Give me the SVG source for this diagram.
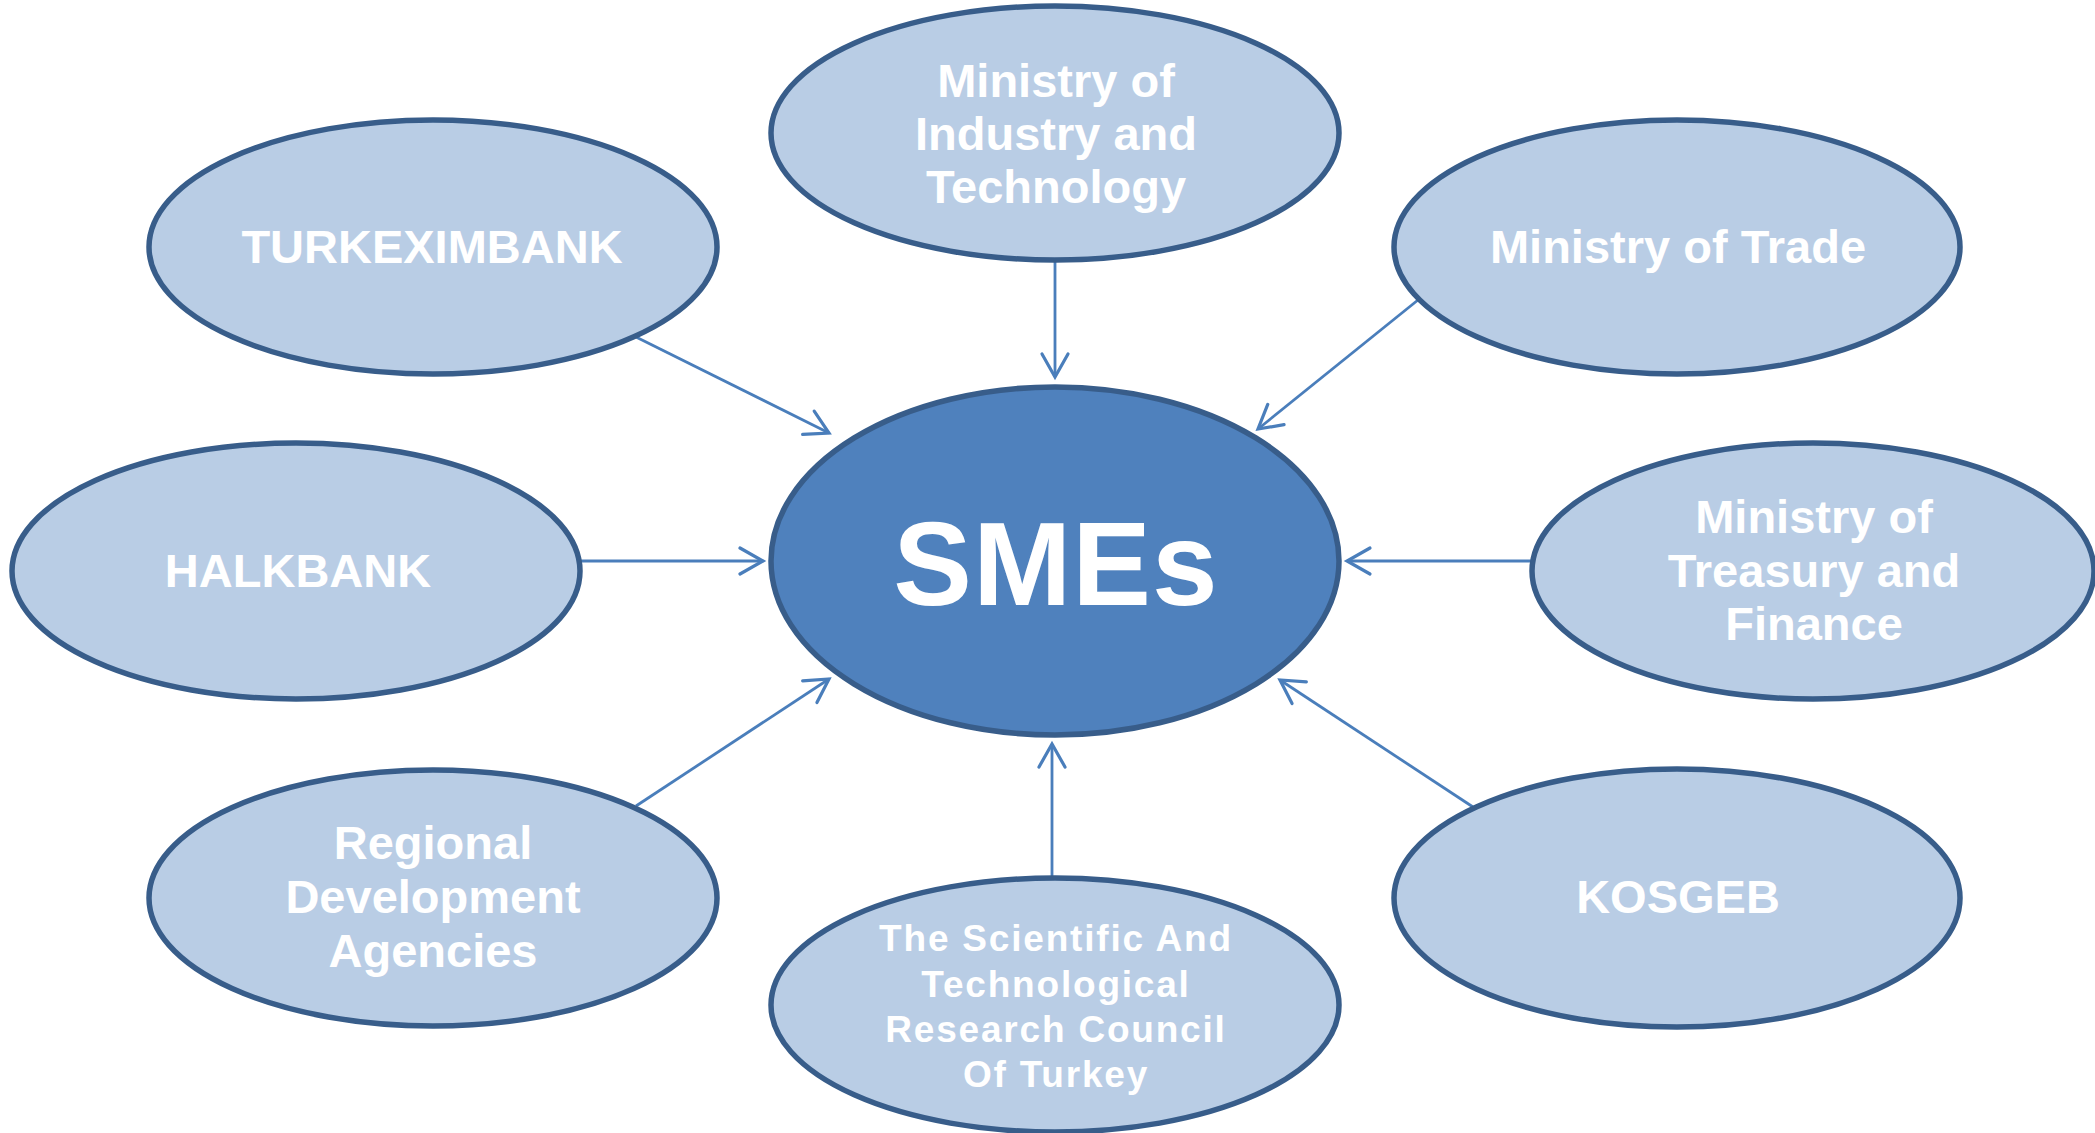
<svg xmlns="http://www.w3.org/2000/svg" width="2095" height="1133" viewBox="0 0 2095 1133">
<style>
.node{fill:#B9CDE5;stroke:#385D8A;stroke-width:5.5}
.hub{fill:#4F81BD;stroke:#385D8A;stroke-width:5.5}
.lbl{font-family:"Liberation Sans",Arial,sans-serif;font-weight:bold;font-size:47px;fill:#FFFFFF;text-anchor:middle}
.small{font-size:37px;letter-spacing:1.8px}
.big{font-size:118px;letter-spacing:1px}
.conn{stroke:#4A7EBB;stroke-width:2.8;fill:none;marker-end:url(#arr)}
</style>
<defs>
<marker id="arr" markerUnits="userSpaceOnUse" viewBox="-30 -20 40 40" markerWidth="40" markerHeight="40" refX="0" refY="0" orient="auto" overflow="visible">
<path d="M -23 -13 L 0 0 L -23 13" fill="none" stroke="#4A7EBB" stroke-width="3.2" stroke-linecap="round" stroke-linejoin="miter"/>
</marker>
</defs>
<rect width="2095" height="1133" fill="#FFFFFF"/>
<g id="connectors">
<line class="conn" x1="1055" y1="262" x2="1055" y2="377"/>
<line class="conn" x1="636" y1="337" x2="829" y2="433"/>
<line class="conn" x1="1418" y1="300" x2="1258" y2="429"/>
<line class="conn" x1="581" y1="561" x2="763" y2="561"/>
<line class="conn" x1="1532" y1="561" x2="1347" y2="561"/>
<line class="conn" x1="636" y1="806" x2="829" y2="679"/>
<line class="conn" x1="1473" y1="807" x2="1280" y2="680"/>
<line class="conn" x1="1052" y1="877" x2="1052" y2="744"/>
</g>
<g id="industry">
<ellipse class="node" cx="1055" cy="133" rx="284" ry="127"/>
<text class="lbl" x="1056" y="97">Ministry of</text>
<text class="lbl" x="1056" y="150">Industry and</text>
<text class="lbl" x="1056" y="203">Technology</text>
</g>
<g id="turkeximbank">
<ellipse class="node" cx="433" cy="247" rx="284" ry="127"/>
<text class="lbl" x="432" y="263">TURKEXIMBANK</text>
</g>
<g id="trade">
<ellipse class="node" cx="1677" cy="247" rx="283" ry="127"/>
<text class="lbl" x="1678" y="263">Ministry of Trade</text>
</g>
<g id="halkbank">
<ellipse class="node" cx="296" cy="571" rx="284" ry="128"/>
<text class="lbl" x="298" y="587">HALKBANK</text>
</g>
<g id="smes">
<ellipse class="hub" cx="1055" cy="561" rx="284" ry="174"/>
<text class="lbl big" x="1056" y="605">SMEs</text>
</g>
<g id="treasury">
<ellipse class="node" cx="1813" cy="571" rx="281" ry="128"/>
<text class="lbl" x="1814" y="533">Ministry of</text>
<text class="lbl" x="1814" y="587">Treasury and</text>
<text class="lbl" x="1814" y="640">Finance</text>
</g>
<g id="regional">
<ellipse class="node" cx="433" cy="898" rx="284" ry="128"/>
<text class="lbl" x="433" y="859">Regional</text>
<text class="lbl" x="433" y="913">Development</text>
<text class="lbl" x="433" y="967">Agencies</text>
</g>
<g id="kosgeb">
<ellipse class="node" cx="1677" cy="898" rx="283" ry="129"/>
<text class="lbl" x="1678" y="913">KOSGEB</text>
</g>
<g id="tubitak">
<ellipse class="node" cx="1055" cy="1005" rx="284" ry="127"/>
<text class="lbl small" x="1056" y="951">The Scientific And</text>
<text class="lbl small" x="1056" y="997">Technological</text>
<text class="lbl small" x="1056" y="1042">Research Council</text>
<text class="lbl small" x="1056" y="1087">Of Turkey</text>
</g>
</svg>
